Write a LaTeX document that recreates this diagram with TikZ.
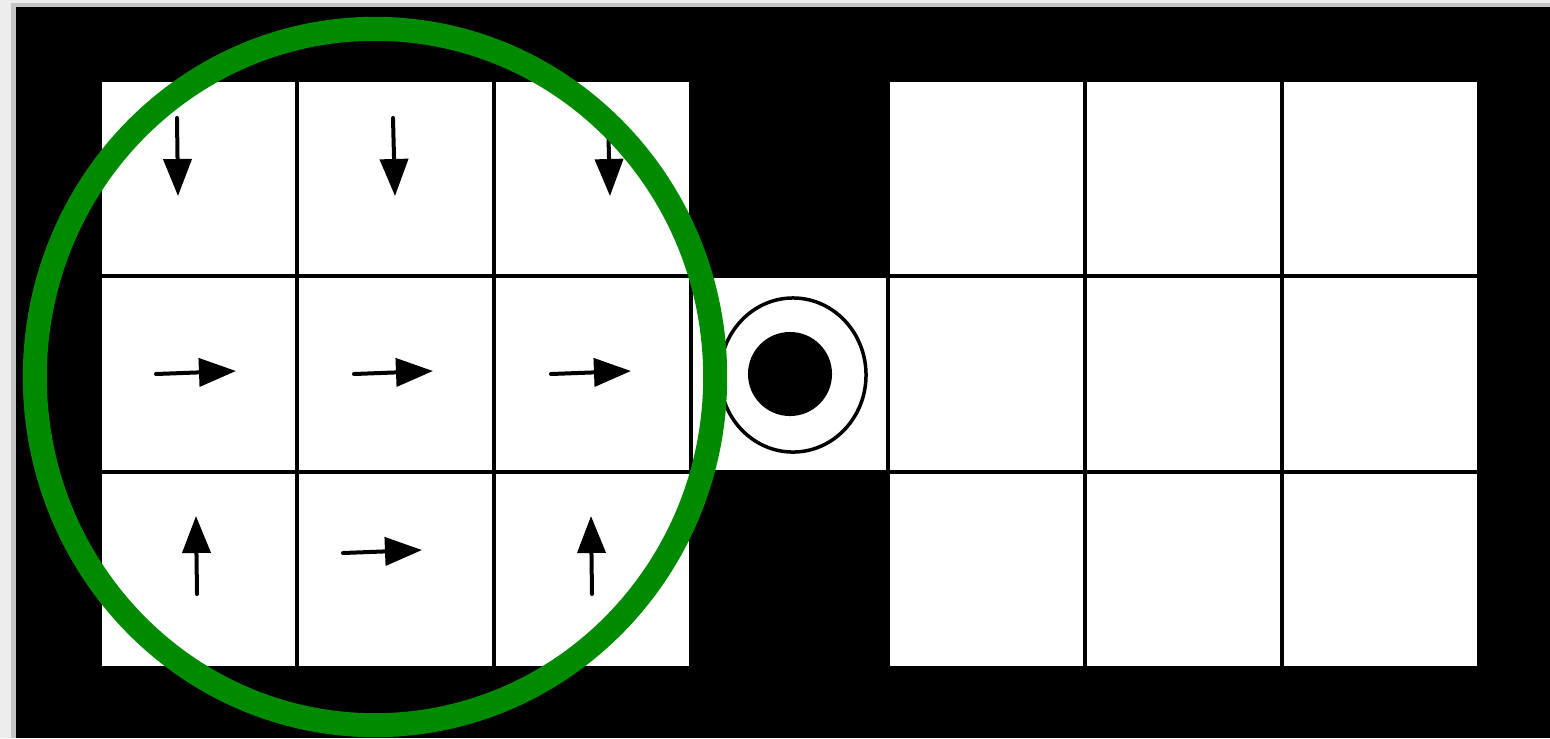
\documentclass[tikz,border=0pt]{standalone}
\usepackage{tikz}
\usetikzlibrary{arrows.meta}
\definecolor{gbg}{HTML}{EDEDED}
\definecolor{gshade}{HTML}{C4C4C4}
\definecolor{ggreen}{HTML}{008A00}
\tikzset{
  cell/.style={draw=black,fill=white,line width=0.035cm,inner sep=0pt,minimum width=1.97cm,minimum height=1.96cm},
  arr/.style={-{Triangle[length=0.37cm,width=0.28cm]},line width=0.04cm,line cap=round},
  ring/.style={draw=black,fill=white,line width=0.035cm},
  zone/.style={draw=ggreen,line width=0.24cm},
}
\begin{document}
\begin{tikzpicture}[x=0.01cm,y=-0.01cm]
  \useasboundingbox (0,0) rectangle (1550,738);
  % backdrop and shadow
  \fill[gbg] (0,0) rectangle (1550,738);
  \fill[gshade] (11,3) rectangle (1550,738);
  \fill[black] (16,7) rectangle (1550,738);
  % grid of cells
  \foreach \r in {1,2,3}
    \foreach \c in {1,2,3,5,6,7}
      \node[cell] (c\r\c) at ({100+197*(\c-0.5)},{80+196*(\r-0.5)}) {};
  \node[cell] (c24) at ({100+197*3.5},{80+196*1.5}) {};
  % goal
  \draw[ring] (793,375) ellipse [x radius=0.73cm,y radius=0.77cm];
  \fill[black] (790,374) circle [radius=0.42cm];
  % policy arrows
  \foreach \xa/\ya/\xb/\yb in {177/118/178/196, 393/118/395/196, 608/118/610/196,
      156/374/236/371, 354/374/433/371, 551/374/631/371,
      197/594/196/516, 343/553/422/550, 592/594/591/516}
    \draw[arr] (\xa,\ya) -- (\xb,\yb);
  % neighbourhood
  \draw[zone] (375,377) ellipse [x radius=3.40cm,y radius=3.48cm];
\end{tikzpicture}
\end{document}
